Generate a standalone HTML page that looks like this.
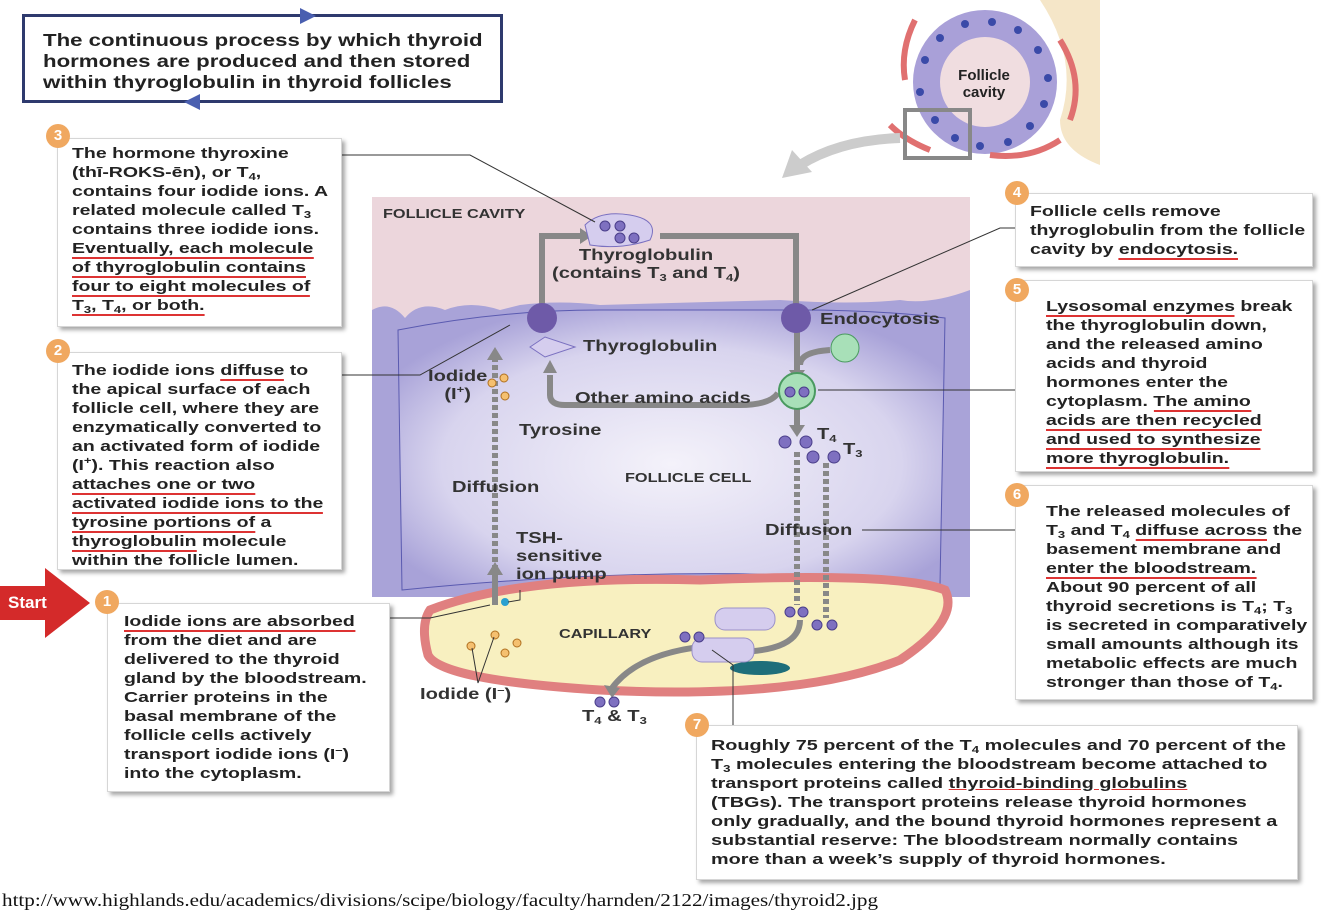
<!DOCTYPE html>
<html><head><meta charset="utf-8">
<style>
body{margin:0;width:1334px;height:913px;background:#fff;position:relative;overflow:hidden;font-family:"Liberation Sans",Arial,sans-serif;}
.box{position:absolute;background:#fff;border:1px solid #d6d6d6;box-shadow:3px 3px 4px rgba(0,0,0,.35);font-weight:bold;font-size:15px;line-height:19px;color:#222;box-sizing:border-box;padding:5px 12px 0 14px;}
.t{transform:scaleX(1.3);transform-origin:0 0;white-space:nowrap;}
.u{border-bottom:2px solid #d33;}
.num{position:absolute;width:24px;height:24px;border-radius:50%;background:#f0a860;color:#fff;font-weight:bold;font-size:15px;text-align:center;line-height:24px;}
.lab{position:absolute;font-weight:bold;font-size:15.5px;color:#333;white-space:nowrap;transform:scaleX(1.3);transform-origin:0 0;}
sub{font-size:10px;vertical-align:-3px;line-height:0}
sup{font-size:10px;line-height:0}
</style></head><body>

<!-- title -->
<div style="position:absolute;left:22px;top:14px;width:481px;height:89px;border:3px solid #2e3a6e;box-sizing:border-box;padding:13px 0 0 18px;font-weight:bold;font-size:17.5px;line-height:21px;color:#222;"><div style="transform:scaleX(1.27);transform-origin:0 0;white-space:nowrap">The continuous process by which thyroid<br>hormones are produced and then stored<br>within thyroglobulin in thyroid follicles</div></div>
<svg style="position:absolute;left:0;top:0" width="520" height="110"><polygon points="300,8 316,16 300,24" fill="#4a5fb0"/><polygon points="200,94 184,102 200,110" fill="#4a5fb0"/></svg>

<!-- diagram svg -->
<svg style="position:absolute;left:0;top:0" width="1334" height="913">
 <!-- follicle top right -->
 <path d="M1040,0 Q1080,60 1060,120 Q1060,150 1100,165 L1100,0 Z" fill="#f5e6c8"/>
 <circle cx="985" cy="82" r="72" fill="#a9a0d8"/>
 <circle cx="985" cy="82" r="45" fill="#f0dde0"/>
 <g fill="none" stroke="#e07070" stroke-width="6">
  <path d="M915,20 Q900,50 905,80"/><path d="M1060,40 Q1085,80 1070,120"/><path d="M990,155 Q1030,160 1060,140"/><path d="M890,125 Q905,140 930,150"/>
 </g>
 <g fill="#3a4aa8">
  <circle cx="925" cy="60" r="4"/><circle cx="940" cy="38" r="4"/><circle cx="965" cy="24" r="4"/><circle cx="992" cy="22" r="4"/><circle cx="1018" cy="30" r="4"/><circle cx="1038" cy="50" r="4"/><circle cx="1048" cy="78" r="4"/><circle cx="1044" cy="104" r="4"/><circle cx="1030" cy="126" r="4"/><circle cx="1008" cy="142" r="4"/><circle cx="980" cy="146" r="4"/><circle cx="955" cy="138" r="4"/><circle cx="935" cy="120" r="4"/><circle cx="920" cy="92" r="4"/>
 </g>
 <rect x="905" y="110" width="65" height="48" fill="none" stroke="#888" stroke-width="4"/>
 <text x="984" y="80" font-size="15" font-weight="bold" text-anchor="middle" fill="#222">Follicle</text>
 <text x="984" y="97" font-size="15" font-weight="bold" text-anchor="middle" fill="#222">cavity</text>
 <path d="M900,138 Q840,140 800,165" stroke="#ccc" stroke-width="10" fill="none"/>
 <polygon points="782,178 792,150 812,172" fill="#ccc"/>

 <!-- cavity -->
 <rect x="372" y="197" width="598" height="400" fill="#ecd6dc"/>
 <defs><radialGradient id="cg" cx="50%" cy="55%" r="60%"><stop offset="0" stop-color="#f4f2fa"/><stop offset="0.7" stop-color="#d8d4ee"/><stop offset="1" stop-color="#a8a2d8"/></radialGradient></defs>
 <path d="M372,310 Q390,300 405,318 Q420,300 445,310 Q470,300 500,310 L520,305 Q560,300 600,305 L780,300 Q850,305 900,300 Q930,305 970,290 L970,597 L372,597 Z" fill="#a9a3d8"/>
 <path d="M398,330 Q500,310 600,310 L800,310 Q880,310 945,318 L940,585 Q700,560 402,590 Z" fill="url(#cg)" stroke="#5a5ab0" stroke-width="1"/>
 <!-- capillary -->
 <path d="M430,610 Q520,575 700,580 Q900,572 945,590 Q960,620 900,660 Q800,700 600,690 Q440,680 428,655 Q420,625 430,610 Z" fill="#f8f0c0" stroke="#e08080" stroke-width="9"/>
 <ellipse cx="760" cy="668" rx="30" ry="7" fill="#1e6e7a"/>
 <g stroke="#888" fill="none" stroke-width="6">
  <path d="M542,318 L542,236 L580,236"/>
  <path d="M660,236 L796,236 L796,318"/>
  <path d="M797,318 L797,370"/>
  <path d="M778,393 Q770,405 740,405 L565,405 Q550,405 550,395 L550,375"/>
  <path d="M830,350 Q800,352 800,365"/>
  <path d="M797,402 L797,425"/>
  <path d="M495,605 L495,575"/>
  <path d="M720,645 Q640,650 612,688"/>
  <path d="M800,620 Q800,650 740,652"/>
 </g>
 <g stroke="#888" stroke-width="6" stroke-dasharray="5,3" fill="none">
  <path d="M495,570 L495,355"/><path d="M797,452 L797,605"/><path d="M826,463 L826,618"/>
 </g>
 <g fill="#888"><polygon points="580,228 592,236 580,244"/><polygon points="789,318 797,330 805,318"/><polygon points="543,373 550,360 557,373"/><polygon points="789,370 797,382 805,370"/><polygon points="789,425 797,437 805,425"/><polygon points="487,575 495,562 503,575"/><polygon points="487,360 495,347 503,360"/><polygon points="604,685 612,698 620,688"/></g>
 <circle cx="542" cy="318" r="15" fill="#6e5aa8"/><circle cx="796" cy="318" r="15" fill="#6e5aa8"/>
 <circle cx="845" cy="348" r="14" fill="#a8e0b8" stroke="#4a9a60"/>
 <circle cx="797" cy="391" r="18" fill="#a8e0b8" stroke="#4a9a60" stroke-width="2"/>
 <path d="M530,347 L545,337 L575,347 L545,357 Z" fill="#d5cdee" stroke="#7a70c0"/>
 <path d="M585,225 Q600,210 630,215 Q660,220 650,240 Q620,250 590,245 Z" fill="#d5cdee" stroke="#7a70c0"/>
 <rect x="715" y="608" width="60" height="22" rx="10" fill="#d5cdee" stroke="#9a90c8"/>
 <rect x="692" y="638" width="62" height="24" rx="10" fill="#d5cdee" stroke="#9a90c8"/>
 <g fill="#7e70c0" stroke="#4a3e8a">
  <circle cx="605" cy="226" r="5"/><circle cx="620" cy="226" r="5"/><circle cx="620" cy="238" r="5"/><circle cx="634" cy="238" r="5"/>
  <circle cx="790" cy="392" r="5"/><circle cx="804" cy="392" r="5"/>
  <circle cx="785" cy="442" r="6"/><circle cx="806" cy="442" r="6"/><circle cx="813" cy="457" r="6"/><circle cx="834" cy="457" r="6"/>
  <circle cx="790" cy="612" r="5"/><circle cx="803" cy="612" r="5"/><circle cx="817" cy="625" r="5"/><circle cx="832" cy="625" r="5"/>
  <circle cx="685" cy="637" r="5"/><circle cx="699" cy="637" r="5"/><circle cx="600" cy="702" r="5"/><circle cx="614" cy="702" r="5"/>
 </g>
 <g fill="#f5c070" stroke="#b07020"><circle cx="492" cy="383" r="4"/><circle cx="504" cy="378" r="4"/><circle cx="505" cy="396" r="4"/><circle cx="471" cy="646" r="4"/><circle cx="495" cy="635" r="4"/><circle cx="505" cy="653" r="4"/><circle cx="517" cy="643" r="4"/></g>
 <circle cx="505" cy="602" r="4" fill="#2aa0d0"/>
 <g stroke="#333" stroke-width="1" fill="none">
  <path d="M342,155 L470,155 L595,222"/>
  <path d="M342,375 L420,375 L510,325"/>
  <path d="M390,618 L430,618 L490,605"/>
  <path d="M1030,228 L1000,228 L812,310"/>
  <path d="M1015,390 L818,390"/>
  <path d="M1015,530 L862,530"/>
  <path d="M733,727 L733,665 L712,650"/>
  <path d="M520,590 L520,600 L508,602"/>
  <path d="M478,683 L472,648 M478,683 L494,637"/>
 </g>
</svg>

<div class="lab" style="left:383px;top:207px;font-size:12.5px">FOLLICLE CAVITY</div>
<div class="lab" style="left:552px;top:247px;text-align:center;line-height:18px">Thyroglobulin<br>(contains T<sub>3</sub> and T<sub>4</sub>)</div>
<div class="lab" style="left:820px;top:311px">Endocytosis</div>
<div class="lab" style="left:583px;top:338px">Thyroglobulin</div>
<div class="lab" style="left:428px;top:368px;line-height:18px;text-align:center">Iodide<br>(I<sup>+</sup>)</div>
<div class="lab" style="left:575px;top:390px">Other amino acids</div>
<div class="lab" style="left:519px;top:422px">Tyrosine</div>
<div class="lab" style="left:817px;top:426px">T<sub>4</sub></div>
<div class="lab" style="left:843px;top:441px">T<sub>3</sub></div>
<div class="lab" style="left:625px;top:471px;font-size:12.5px">FOLLICLE CELL</div>
<div class="lab" style="left:452px;top:479px">Diffusion</div>
<div class="lab" style="left:765px;top:522px">Diffusion</div>
<div class="lab" style="left:516px;top:530px;line-height:18px">TSH-<br>sensitive<br>ion pump</div>
<div class="lab" style="left:559px;top:627px;font-size:12.5px">CAPILLARY</div>
<div class="lab" style="left:420px;top:686px">Iodide (I<sup>–</sup>)</div>
<div class="lab" style="left:582px;top:708px">T<sub>4</sub> &amp; T<sub>3</sub></div>

<div class="box" style="left:57px;top:138px;width:285px;height:189px"><div class="t">The hormone thyroxine<br>(thī-ROKS-ēn), or <b>T<sub>4</sub></b>,<br>contains four iodide ions. A<br>related molecule called T<sub>3</sub><br>contains three iodide ions.<br><span class="u">Eventually, each molecule</span><br><span class="u">of thyroglobulin contains</span><br><span class="u">four to eight molecules of</span><br><span class="u">T<sub>3</sub>, T<sub>4</sub>, or both.</span></div></div>
<div class="box" style="left:57px;top:352px;width:285px;height:218px;padding-top:8px"><div class="t">The iodide ions <span class="u">diffuse</span> to<br>the apical surface of each<br>follicle cell, where they are<br>enzymatically converted to<br>an activated form of iodide<br>(I<sup>+</sup>). This reaction also<br><span class="u">attaches one or two</span><br><span class="u">activated iodide ions to the</span><br><span class="u">tyrosine portions of</span> a<br><span class="u">thyroglobulin</span> molecule<br>within the follicle lumen.</div></div>
<div class="box" style="left:107px;top:603px;width:283px;height:189px;padding-left:16px;padding-top:8px"><div class="t"><span class="u">Iodide ions are absorbed</span><br>from the diet and are<br>delivered to the thyroid<br>gland by the bloodstream.<br>Carrier proteins in the<br>basal membrane of the<br>follicle cells actively<br>transport iodide ions (I<sup>–</sup>)<br>into the cytoplasm.</div></div>
<div class="box" style="left:1015px;top:193px;width:298px;height:74px;padding-top:8px"><div class="t">Follicle cells remove<br>thyroglobulin from the follicle<br>cavity by <span class="u">endocytosis.</span></div></div>
<div class="box" style="left:1015px;top:280px;width:298px;height:192px;padding-left:30px;padding-top:16px"><div class="t"><span class="u">Lysosomal enzymes</span> break<br>the thyroglobulin down,<br>and the released amino<br>acids and thyroid<br>hormones enter the<br>cytoplasm. <span class="u">The amino</span><br><span class="u">acids are then recycled</span><br><span class="u">and used to synthesize</span><br><span class="u">more thyroglobulin.</span></div></div>
<div class="box" style="left:1015px;top:485px;width:298px;height:215px;padding-left:30px;padding-top:16px"><div class="t">The released molecules of<br>T<sub>3</sub> and T<sub>4</sub> <span class="u">diffuse across</span> the<br>basement membrane and<br><span class="u">enter the bloodstream.</span><br>About 90 percent of all<br>thyroid secretions is T<sub>4</sub>; T<sub>3</sub><br>is secreted in comparatively<br>small amounts although its<br>metabolic effects are much<br>stronger than those of T<sub>4</sub>.</div></div>
<div class="box" style="left:696px;top:725px;width:602px;height:155px;padding-top:10px"><div class="t" style="transform:scaleX(1.32)">Roughly 75 percent of the T<sub>4</sub> molecules and 70 percent of the<br>T<sub>3</sub> molecules entering the bloodstream become attached to<br>transport proteins called <u style="text-decoration-color:#d33">thyroid-binding globulins</u><br>(TBGs). The transport proteins release thyroid hormones<br>only gradually, and the bound thyroid hormones represent a<br>substantial reserve: The bloodstream normally contains<br>more than a week’s supply of thyroid hormones.</div></div>

<div class="num" style="left:46px;top:124px">3</div>
<div class="num" style="left:46px;top:339px">2</div>
<div class="num" style="left:95px;top:590px">1</div>
<div class="num" style="left:1005px;top:181px">4</div>
<div class="num" style="left:1005px;top:278px">5</div>
<div class="num" style="left:1005px;top:483px">6</div>
<div class="num" style="left:685px;top:713px">7</div>

<svg style="position:absolute;left:0;top:568px" width="95" height="70"><polygon points="0,18 45,18 45,0 90,35 45,70 45,52 0,52" fill="#d42a2a"/></svg>
<div style="position:absolute;left:8px;top:593px;color:#fff;font-weight:bold;font-size:17px">Start</div>

<div style="position:absolute;left:2px;top:890px;font-family:'Liberation Serif',serif;font-size:18px;color:#111;white-space:nowrap;transform:scaleX(1.174);transform-origin:0 0">http://www.highlands.edu/academics/divisions/scipe/biology/faculty/harnden/2122/images/thyroid2.jpg</div>
</body></html>
